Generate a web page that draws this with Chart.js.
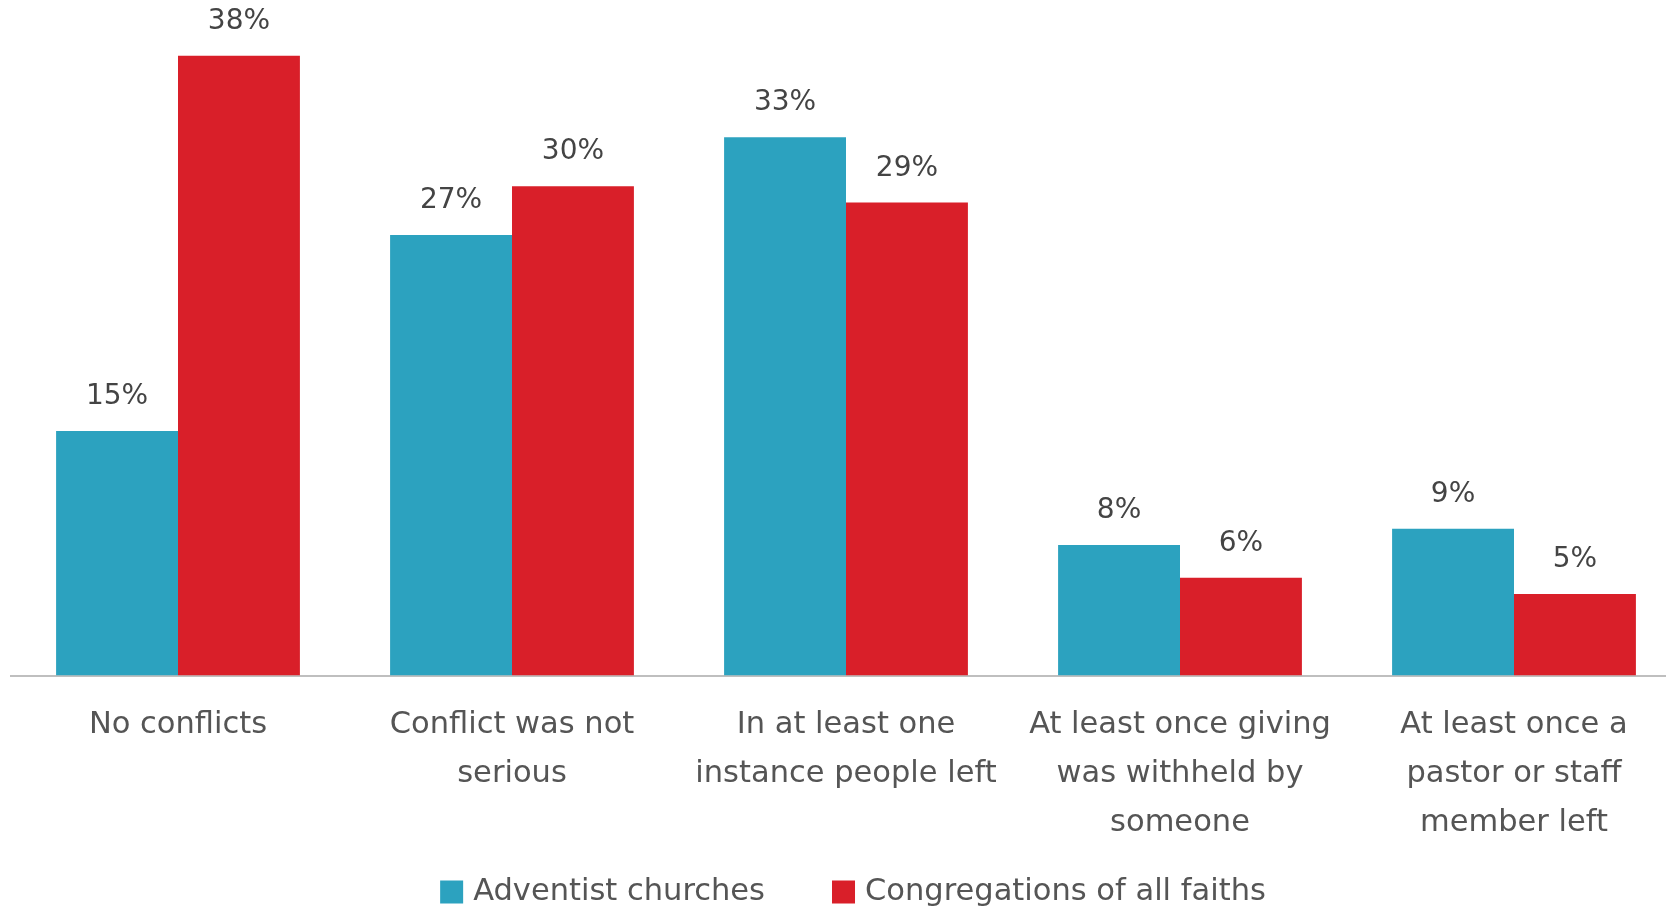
<!DOCTYPE html>
<html>
<head>
<meta charset="utf-8">
<script src="https://cdn.jsdelivr.net/npm/chart.js@4"></script>
<style>
  html, body { margin: 0; padding: 0; overflow: hidden; background: #fff; }
  #wrap { width: 1690px; height: 910px; }
</style>
</head>
<body>
<div id="wrap"><canvas id="chart"></canvas></div>
<script>
// chart data
const categories = [
    ['No conflicts'],
    ['Conflict was not', 'serious'],
    ['In at least one', 'instance people left'],
    ['At least once giving', 'was withheld by', 'someone'],
    ['At least once a', 'pastor or staff', 'member left']
];
const adventist = [15, 27, 33, 8, 9];
const allFaiths = [38, 30, 29, 6, 5];
const seriesNames = ['Adventist churches', 'Congregations of all faiths'];
const colors = ['#2CA2BF', '#D91F29'];

const FONT = '"DejaVu Sans", sans-serif';

// value labels above bars
const valueLabels = {
    id: 'valueLabels',
    afterDatasetsDraw(chart) {
        const ctx = chart.ctx;
        ctx.save();
        ctx.font = '28px ' + FONT;
        ctx.fillStyle = '#444';
        ctx.textAlign = 'center';
        ctx.textBaseline = 'middle';
        chart.data.datasets.forEach((ds, i) => {
            chart.getDatasetMeta(i).data.forEach((bar, j) => {
                ctx.fillText(ds.data[j] + '%', bar.x, bar.y - 34);
            });
        });
        ctx.restore();
    }
};

// legend drawn at the bottom
const bottomLegend = {
    id: 'bottomLegend',
    afterDraw(chart) {
        const ctx = chart.ctx;
        ctx.save();
        ctx.font = '30.5px ' + FONT;
        ctx.textBaseline = 'middle';
        const box = 23, gapText = 10, gapItem = 67;
        const items = chart.data.datasets.map(ds => ({
            text: ds.label, color: ds.backgroundColor,
            w: box + gapText + ctx.measureText(ds.label).width
        }));
        const total = items.reduce((s, it) => s + it.w, 0) + gapItem * (items.length - 1);
        let x = 853 - total / 2;
        const y = 892;
        items.forEach(it => {
            ctx.fillStyle = it.color;
            ctx.fillRect(x, y - box / 2, box, box);
            ctx.fillStyle = '#555';
            ctx.fillText(it.text, x + box + gapText, y);
            x += it.w + gapItem;
        });
        ctx.restore();
    }
};

new Chart(document.getElementById('chart').getContext('2d'), {
    type: 'bar',
    data: {
        labels: categories,
        datasets: [
            { label: seriesNames[0], data: adventist, backgroundColor: colors[0] },
            { label: seriesNames[1], data: allFaiths, backgroundColor: colors[1] }
        ]
    },
    options: {
        responsive: true,
        maintainAspectRatio: false,
        animation: false,
        layout: { padding: { left: 11, right: 9, top: 23, bottom: 38 } },
        datasets: { bar: { categoryPercentage: 0.73, barPercentage: 1.0 } },
        plugins: {
            legend: { display: false },
            tooltip: { enabled: false }
        },
        scales: {
            x: {
                grid: { display: false, drawTicks: false },
                border: { display: true, color: '#BFBFBF', width: 2 },
                ticks: {
                    autoSkip: false,
                    maxRotation: 0,
                    padding: 25,
                    color: '#555',
                    font: { family: FONT, size: 30.5, lineHeight: 1.6 }
                }
            },
            y: {
                display: false,
                min: 0,
                max: 40
            }
        }
    },
    plugins: [valueLabels, bottomLegend]
});
</script>
</body>
</html>
